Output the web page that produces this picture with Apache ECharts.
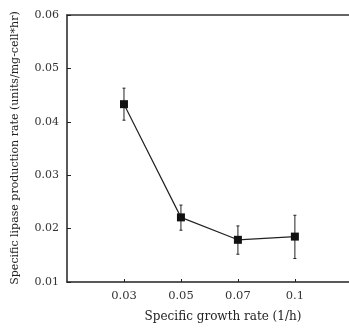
<!DOCTYPE html>
<html><head><meta charset="utf-8">
<script src="https://cdn.jsdelivr.net/npm/echarts@6/dist/echarts.min.js"></script>
<style>html,body{margin:0;padding:0;background:#fff}#c{width:349px;height:333px}</style>
</head><body><div id="c"></div>
<script>
const categories = ['0.03', '0.05', '0.07', '0.1'];
const rates = [0.0433, 0.0221, 0.0179, 0.0185];
const errLow = [0.0403, 0.0197, 0.0152, 0.0144];
const errHigh = [0.0463, 0.0244, 0.0205, 0.0225];
const yTicks = [0.01, 0.02, 0.03, 0.04, 0.05, 0.06];

const pts = rates.map((v, i) => [i + 1, v]);
const errs = rates.map((v, i) => [i + 1, errLow[i], errHigh[i]]);
const catPos = categories.map((c, i) => i + 1);
const xMax = 4.95;
const font = '"DejaVu Serif", "Liberation Serif", serif';
const chart = echarts.init(document.getElementById('c'), null, {renderer: 'canvas'});
chart.setOption({
  animation: false,
  backgroundColor: '#fff',
  grid: {left: 67, top: 15, right: 0, bottom: 51, outerBoundsMode: 'none'},
  xAxis: [{
    type: 'value', min: 0, max: xMax,
    axisLine: {lineStyle: {color: '#222', width: 1.5}},
    axisTick: {inside: true, length: 3, customValues: catPos, lineStyle: {color: '#222'}},
    splitLine: {show: false},
    axisLabel: {
      margin: 8, color: '#333', fontFamily: font, fontSize: 11.5,
      customValues: catPos,
      formatter: v => categories[Math.round(v) - 1] || ''
    }
  }, {
    type: 'value', position: 'top', min: 0, max: xMax,
    axisLine: {show: true, lineStyle: {color: '#333', width: 1.5}},
    axisTick: {show: false}, axisLabel: {show: false}, splitLine: {show: false}
  }],
  yAxis: {
    type: 'value', min: yTicks[0], max: yTicks[yTicks.length - 1], interval: 0.01,
    axisLine: {show: true, lineStyle: {color: '#222', width: 1.5}},
    axisTick: {inside: true, length: 4, lineStyle: {color: '#222'}},
    splitLine: {show: false},
    axisLabel: {margin: 8, color: '#333', fontFamily: font, fontSize: 11,
      formatter: v => v.toFixed(2)}
  },
  graphic: [
    {type: 'text', x: 223, y: 317,
     style: {text: 'Specific growth rate (1/h)', font: '12px ' + font, fill: '#222',
       align: 'center', verticalAlign: 'middle'}},
    {type: 'text', x: 15, y: 148, rotation: Math.PI / 2,
     style: {text: 'Specific lipase production rate (units/mg-cell*hr)', font: '11px ' + font,
       fill: '#222', align: 'center', verticalAlign: 'middle'}}
  ],
  series: [{
    type: 'custom',
    data: errs,
    z: 3,
    renderItem: function (params, api) {
      const x = api.value(0);
      const lo = api.coord([x, api.value(1)]);
      const hi = api.coord([x, api.value(2)]);
      const cw = 1.5;
      return {type: 'group', children: [
        {type: 'line', shape: {x1: lo[0], y1: lo[1], x2: hi[0], y2: hi[1]}, style: {stroke: '#222', lineWidth: 1}},
        {type: 'line', shape: {x1: lo[0] - cw, y1: lo[1], x2: lo[0] + cw, y2: lo[1]}, style: {stroke: '#222', lineWidth: 1}},
        {type: 'line', shape: {x1: hi[0] - cw, y1: hi[1], x2: hi[0] + cw, y2: hi[1]}, style: {stroke: '#222', lineWidth: 1}}
      ]};
    }
  }, {
    type: 'line', data: pts, z: 4,
    symbol: 'rect', symbolSize: 8,
    lineStyle: {color: '#222', width: 1.2},
    itemStyle: {color: '#111'}
  }]
});
</script></body></html>
